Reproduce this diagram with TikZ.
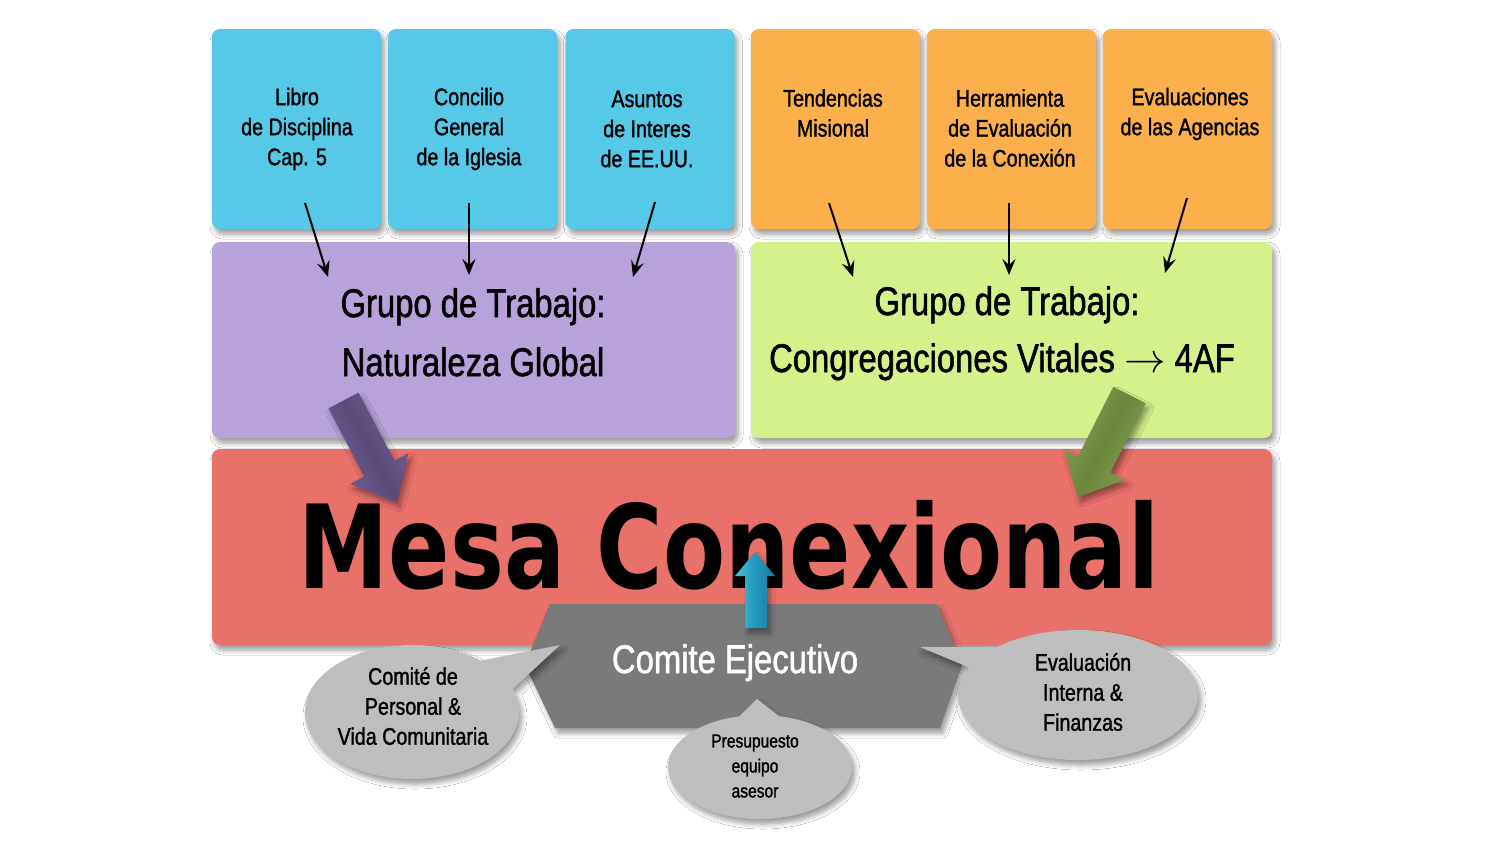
\documentclass[tikz,border=0pt]{standalone}
\usepackage{fontspec}
\setmainfont{Liberation Sans}[FakeStretch=0.82,FakeBold=1.3]
\newfontfamily\bigfont{DejaVu Sans}[FakeStretch=0.78]
\usetikzlibrary{arrows.meta,shadows.blur,calc}
\definecolor{cblue}{HTML}{56C9E9}
\definecolor{corange}{HTML}{FBB04C}
\definecolor{cpurple}{HTML}{B8A2DA}
\definecolor{cgreen}{HTML}{D4F18B}
\definecolor{cred}{HTML}{E8716A}
\definecolor{chex}{HTML}{7A7A7A}
\definecolor{cbub}{HTML}{BEBEBE}
\definecolor{parrowm}{HTML}{5A497A}
\definecolor{parrowe}{HTML}{72629A}
\definecolor{garrowm}{HTML}{6A873A}
\definecolor{garrowe}{HTML}{86A055}
\definecolor{barrowl}{HTML}{4CC0DE}
\definecolor{barrowm}{HTML}{2397BC}
\definecolor{barrowr}{HTML}{1A7E9E}
\begin{document}
\begin{tikzpicture}[x=0.5pt,y=-0.5pt,
  softsh/.style={blur shadow={shadow xshift=1.5pt,shadow yshift=-2.5pt,shadow blur radius=2.5pt,shadow blur steps=6,shadow opacity=40}},
  topbox/.style={rounded corners=4pt,minimum width=84.5pt,minimum height=100pt,inner sep=0pt,softsh},
  grpbox/.style={rounded corners=4pt,minimum height=98pt,inner sep=0pt,softsh},
  boxtxt/.style={align=center,inner sep=0pt,font=\fontsize{12}{15}\selectfont},
  grptxt/.style={anchor=base,inner sep=0pt,font=\fontsize{20}{24}\selectfont},
  bubtxt/.style={align=center,inner sep=0pt,font=\fontsize{12}{15}\selectfont},
  thinarr/.style={-{Stealth[length=8pt,width=6.5pt,inset=3pt]},line width=1pt},
  bubble/.style={fill=cbub,softsh}]
\fill[white] (0,0) rectangle (1500,841);
\useasboundingbox (0,0) rectangle (1500,841);
% top boxes
\node[topbox,fill=cblue] (b1) at (296.5,129) {};
\node[topbox,fill=cblue] (b2) at (472.5,129) {};
\node[topbox,fill=cblue] (b3) at (650,129) {};
\node[topbox,fill=corange] (o1) at (835.5,129) {};
\node[topbox,fill=corange] (o2) at (1011.5,129) {};
\node[topbox,fill=corange] (o3) at (1187.5,129) {};
\node[boxtxt] (t1) at (297,129) {Libro\\de Disciplina\\Cap. 5};
\node[boxtxt] (t2) at (469,129) {Concilio\\General\\de la Iglesia};
\node[boxtxt] (t3) at (647,129) {Asuntos\\de Interes\\de EE.UU.};
\node[boxtxt] (t4) at (833,113) {Tendencias\\Misional};
\node[boxtxt] (t5) at (1010,128) {Herramienta\\de Evaluación\\de la Conexión};
\node[boxtxt] (t6) at (1190,114) {Evaluaciones\\de las Agencias};
% group boxes
\node[grpbox,fill=cpurple,minimum width=261.5pt] (gp) at (473.5,340) {};
\node[grpbox,fill=cgreen,minimum width=260.5pt] (gg) at (1011.5,340) {};
\node[grpbox,fill=cred,minimum width=530pt] (mesa) at (742,547) {};
\node[grptxt] (gp1) at (473,317) {Grupo de Trabajo:};
\node[grptxt] (gp2) at (473,376) {Naturaleza Global};
\node[grptxt] (gg1) at (1007,315) {Grupo de Trabajo:};
\node[grptxt] (gg2) at (1002,372) {Congregaciones Vitales $\rightarrow$ 4AF};
% thin arrows
\coordinate (s1) at (305,203); \coordinate (e1) at (328,277);
\coordinate (s2) at (469,203); \coordinate (e2) at (469,275);
\coordinate (s3) at (655,202); \coordinate (e3) at (633,277);
\coordinate (s4) at (829,203); \coordinate (e4) at (853,277);
\coordinate (s5) at (1009,203); \coordinate (e5) at (1009,275);
\coordinate (s6) at (1187,198); \coordinate (e6) at (1165,273);
\foreach \i in {1,...,6} {\draw[thinarr] (s\i) -- (e\i);}
% fat arrows
\shade[softsh,top color=parrowe,bottom color=parrowe,middle color=parrowm,shading angle=-62]
  (358.5,392.6) -- (394.3,460.6) -- (408.4,453.2) -- (397,502) -- (350.2,483.8) -- (364.3,476.4) -- (328.5,408.4) -- cycle;
\shade[softsh,top color=garrowe,bottom color=garrowe,middle color=garrowm,shading angle=63]
  (1113.4,386.9) -- (1145.6,403.1) -- (1110.4,472.7) -- (1124.6,479.9) -- (1078,497) -- (1064.0,449.3) -- (1078.2,456.5) -- cycle;
% main title
\node[anchor=base,inner sep=0pt,font=\bigfont\bfseries\fontsize{58}{60}\selectfont] (mt) at (729,588) {Mesa Conexional};
% hexagon
\fill[chex,softsh] (550,604) -- (937,604) -- (962,665) -- (940,728) -- (555,728) -- (525,665) -- cycle;
% blue up arrow
\shade[softsh,left color=barrowl,right color=barrowr,middle color=barrowm,shading angle=90]
  (745,628) -- (767,628) -- (767,576) -- (775,576) -- (755,552) -- (735,576) -- (745,576) -- cycle;
\node[grptxt,text=white] (ce) at (735,673) {Comite Ejecutivo};
% bubbles
\coordinate (cl) at (412,712);
\fill[bubble] ($(cl)+(-50:107 and 67)$) -- (560,645) -- ($(cl)+(-20:107 and 67)$) arc[start angle=-20,end angle=310,x radius=107,y radius=67] -- cycle;
\coordinate (cr) at (1078,695);
\fill[bubble] ($(cr)+(228:120 and 65)$) -- (920,647) -- ($(cr)+(205:120 and 65)$) arc[start angle=205,end angle=-132,x radius=120,y radius=65] -- cycle;
\coordinate (cb) at (760,767);
\fill[bubble] ($(cb)+(282:92 and 52)$) -- (757,699) -- ($(cb)+(257:92 and 52)$) arc[start angle=257,end angle=-78,x radius=92,y radius=52] -- cycle;
\node[bubtxt] (bl) at (413,706) {Comité de\\Personal \&\\Vida Comunitaria};
\node[bubtxt] (br) at (1083,692) {Evaluación\\Interna \&\\Finanzas};
\node[bubtxt,font=\fontsize{9.5}{12.5}\selectfont] (bb) at (755,766) {Presupuesto\\equipo\\asesor};
\end{tikzpicture}
\end{document}
